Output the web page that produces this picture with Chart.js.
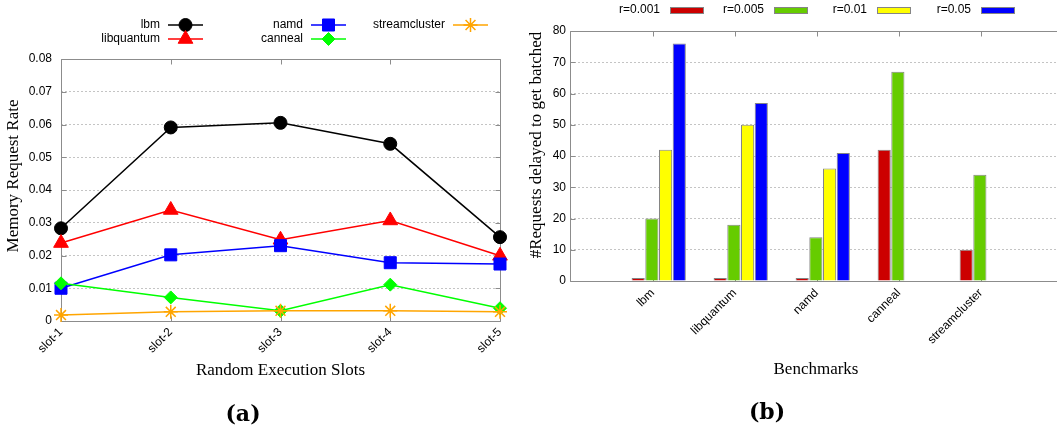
<!DOCTYPE html>
<html>
<head>
<meta charset="utf-8">
<script src="https://cdn.jsdelivr.net/npm/chart.js@4/dist/chart.umd.min.js"></script>
<style>
  html, body { margin: 0; padding: 0; background: #fff; width: 1057px; height: 435px; overflow: hidden; position: relative; }
  .panel { position: absolute; top: 0; height: 435px; }
  #panelA { left: 0; width: 528px; }
  #panelB { left: 528px; width: 540px; }
  .caption { position: absolute; font: bold 22px "DejaVu Serif", serif; color: #000; transform: translate(-50%, -50%); white-space: nowrap; }
</style>
</head>
<body>
<div class="panel" id="panelA"><canvas id="chartA" width="528" height="435"></canvas></div>
<div class="panel" id="panelB"><canvas id="chartB" width="540" height="435"></canvas></div>
<div class="caption" style="left:243px; top:413px">(a)</div>
<div class="caption" style="left:767px; top:411px">(b)</div>
<script>
  // (a) memory request rate per random execution slot
  const slots = ["slot-1", "slot-2", "slot-3", "slot-4", "slot-5"];
  const lbmRate = [0.0283, 0.0591, 0.0605, 0.0541, 0.0256];
  const libquantumRate = [0.0238, 0.0339, 0.0248, 0.0307, 0.0199];
  const namdRate = [0.0100, 0.0202, 0.0230, 0.0178, 0.0174];
  const cannealRate = [0.0115, 0.0072, 0.0031, 0.0111, 0.0039];
  const streamclusterRate = [0.0018, 0.0028, 0.0031, 0.0031, 0.0028];

  // (b) requests delayed to get batched, per r value
  const benchmarks = ["lbm", "libquantum", "namd", "canneal", "streamcluster"];
  const delayedR001 = [1, 1, 1, 42, 10];
  const delayedR005 = [20, 18, 14, 67, 34];
  const delayedR01 = [42, 50, 36, 0, 0];
  const delayedR05 = [76, 57, 41, 0, 0];

  const SANS = '"Liberation Sans", Arial, sans-serif';
  const SERIF = '"Liberation Serif", "Times New Roman", serif';
  const AXIS_GREY = "#8c8c8c";

  Chart.defaults.font.family = SANS;
  Chart.defaults.font.size = 12;
  Chart.defaults.color = "#000";

  // gnuplot-style box with inward ticks
  const frame = {
    id: "frame",
    beforeDatasetsDraw(chart) {
      const { ctx, chartArea: a, scales } = chart;
      const x = scales.x, y = scales.y;
      ctx.save();
      ctx.strokeStyle = AXIS_GREY;
      ctx.lineWidth = 1;
      const L = Math.round(a.left) + 0.5, T = Math.round(a.top) + 0.5;
      const R = Math.round(a.right) + 0.5, B = Math.round(a.bottom) + 0.5;
      ctx.beginPath();
      ctx.moveTo(L, B); ctx.lineTo(L, T); ctx.lineTo(R, T); ctx.lineTo(R, B); ctx.lineTo(L, B);
      y.ticks.forEach((t, i) => {
        const py = Math.round(y.getPixelForTick(i)) + 0.5;
        ctx.moveTo(L, py); ctx.lineTo(L + 5, py);
        ctx.moveTo(R, py); ctx.lineTo(R - 5, py);
      });
      x.ticks.forEach((t, i) => {
        const px = Math.round(x.getPixelForTick(i)) + 0.5;
        ctx.moveTo(px, T); ctx.lineTo(px, T + 5);
        ctx.moveTo(px, B); ctx.lineTo(px, B - 5);
      });
      ctx.stroke();
      ctx.restore();
    }
  };

  // y title drawn where gnuplot puts it (not centred on the plot box)
  const yTitle = {
    id: "yTitle",
    afterDraw(chart, args, opts) {
      const t = chart.scales.y.options.title;
      const ctx = chart.ctx;
      ctx.save();
      ctx.translate(opts.x, opts.y);
      ctx.rotate(-Math.PI / 2);
      ctx.font = "17px " + SERIF;
      ctx.fillStyle = "#000";
      ctx.textAlign = "center";
      ctx.textBaseline = "middle";
      ctx.fillText(t.text, 0, 0);
      ctx.restore();
    }
  };

  // legend (a): 3 columns x 2 rows, text then line sample
  const LEGEND_A_TEXT_RIGHT = [160, 303, 445];
  const LEGEND_A_ROW_Y = [25, 39];
  const legendA = {
    id: "legendA",
    afterDraw(chart) {
      const ctx = chart.ctx;
      chart.data.datasets.forEach((ds, i) => {
        const tx = LEGEND_A_TEXT_RIGHT[Math.floor(i / 2)];
        const ty = LEGEND_A_ROW_Y[i % 2];
        ctx.save();
        ctx.font = "12px " + SANS;
        ctx.fillStyle = "#000";
        ctx.textAlign = "right";
        ctx.textBaseline = "middle";
        ctx.fillText(ds.label, tx, ty);
        ctx.strokeStyle = ds.borderColor;
        ctx.lineWidth = ds.borderWidth;
        ctx.beginPath();
        ctx.moveTo(tx + 8, ty);
        ctx.lineTo(tx + 43, ty);
        ctx.stroke();
        ctx.fillStyle = ds.pointBackgroundColor;
        ctx.strokeStyle = ds.pointBorderColor;
        ctx.lineWidth = ds.pointBorderWidth;
        Chart.helpers.drawPoint(ctx, {
          pointStyle: ds.pointStyle,
          radius: ds.pointRadius,
          borderWidth: ds.pointBorderWidth,
          rotation: 0
        }, tx + 25.5, ty);
        ctx.restore();
      });
    }
  };

  // legend (b): one row, text then filled box
  const LEGEND_B_TEXT_RIGHT = [132, 236, 339, 443];
  const legendB = {
    id: "legendB",
    afterDraw(chart) {
      const ctx = chart.ctx;
      chart.data.datasets.forEach((ds, i) => {
        const tx = LEGEND_B_TEXT_RIGHT[i];
        ctx.save();
        ctx.font = "12px " + SANS;
        ctx.fillStyle = "#000";
        ctx.textAlign = "right";
        ctx.textBaseline = "middle";
        ctx.fillText(ds.label, tx, 10);
        ctx.fillStyle = ds.backgroundColor;
        ctx.fillRect(tx + 10, 7, 34, 7);
        ctx.strokeStyle = ds.borderColor;
        ctx.lineWidth = 1;
        ctx.strokeRect(tx + 10.5, 7.5, 33, 6);
        ctx.restore();
      });
    }
  };

  function lineSeries(label, data, color, style, radius) {
    return {
      label, data,
      borderColor: color,
      borderWidth: 1.5,
      pointStyle: style,
      pointRadius: radius,
      pointBackgroundColor: color,
      pointBorderColor: color,
      pointBorderWidth: style === "star" ? 1.5 : 1,
      tension: 0,
      clip: false
    };
  }

  const seriesA = [
    lineSeries("lbm", lbmRate, "#000000", "circle", 6.5),
    lineSeries("libquantum", libquantumRate, "#ff0000", "triangle", 8.5),
    lineSeries("namd", namdRate, "#0000ff", "rect", 8.5),
    lineSeries("canneal", cannealRate, "#00ff00", "rectRot", 6.5),
    lineSeries("streamcluster", streamclusterRate, "#ffa500", "star", 7)
  ];
  // later series drawn on top, as in gnuplot
  seriesA.forEach((ds, i) => { ds.order = seriesA.length - i; });

  new Chart(document.getElementById("chartA"), {
    type: "line",
    data: { labels: slots, datasets: seriesA },
    options: {
      responsive: false,
      animation: false,
      devicePixelRatio: 1,
      layout: { padding: { top: 59, right: 28, left: 0, bottom: 0 } },
      plugins: {
        legend: { display: false },
        tooltip: { enabled: false },
        yTitle: { x: 14, y: 176 }
      },
      scales: {
        x: {
          grid: { display: false, drawTicks: false },
          border: { display: false },
          ticks: { minRotation: 45, maxRotation: 45, padding: 4, autoSkip: false },
          title: {
            display: true, text: "Random Execution Slots",
            font: { family: SERIF, size: 17, lineHeight: 1 },
            padding: { top: 0, bottom: 55.5 }
          },
          afterFit: (s) => { s.height = 114; }
        },
        y: {
          min: 0, max: 0.08,
          grid: { color: "#c4c4c4", drawTicks: false },
          border: { display: false, dash: [2, 2] },
          ticks: {
            stepSize: 0.01, padding: 9,
            callback: (v) => (v === 0 ? "0" : v.toFixed(2))
          },
          title: { display: false, text: "Memory Request Rate" },
          afterFit: (s) => { s.width = 61; }
        }
      }
    },
    plugins: [frame, legendA, yTitle]
  });

  function barSeries(label, values, color) {
    return {
      label,
      data: values.map((v, i) => ({ x: i, y: v })),
      backgroundColor: color,
      borderColor: "#858585",
      borderWidth: 1,
      borderSkipped: "start",
      categoryPercentage: 0.668,
      barPercentage: 0.96
    };
  }

  new Chart(document.getElementById("chartB"), {
    type: "bar",
    data: {
      datasets: [
        barSeries("r=0.001", delayedR001, "#cc0000"),
        barSeries("r=0.005", delayedR005, "#66cc00"),
        barSeries("r=0.01", delayedR01, "#ffff00"),
        barSeries("r=0.05", delayedR05, "#0000ff")
      ]
    },
    options: {
      responsive: false,
      animation: false,
      devicePixelRatio: 1,
      layout: { padding: { top: 31, right: 6, left: 0, bottom: 0 } },
      plugins: {
        legend: { display: false },
        tooltip: { enabled: false },
        yTitle: { x: 9, y: 145 }
      },
      scales: {
        x: {
          type: "linear",
          offset: false,
          bounds: "data",
          min: -1.082, max: 4.918,
          grid: { display: false, drawTicks: false, offset: false },
          border: { display: false },
          afterBuildTicks: (s) => {
            // gnuplot puts the benchmark tick slightly left of the bar group
            s.ticks = benchmarks.map((b, i) => ({ value: i - 0.073 }));
          },
          ticks: {
            minRotation: 45, maxRotation: 45, padding: 5, autoSkip: false,
            callback: (v, i) => benchmarks[i]
          },
          title: {
            display: true, text: "Benchmarks",
            font: { family: SERIF, size: 17, lineHeight: 1 },
            padding: { top: 0, bottom: 56.5 }
          },
          afterFit: (s) => { s.height = 154; }
        },
        y: {
          min: 0, max: 80,
          grid: { color: "#c4c4c4", drawTicks: false },
          border: { display: false, dash: [2, 2] },
          ticks: { stepSize: 10, padding: 4 },
          title: { display: false, text: "#Requests delayed to get batched" },
          afterFit: (s) => { s.width = 42; }
        }
      }
    },
    plugins: [frame, legendB, yTitle]
  });
</script>
</body>
</html>
